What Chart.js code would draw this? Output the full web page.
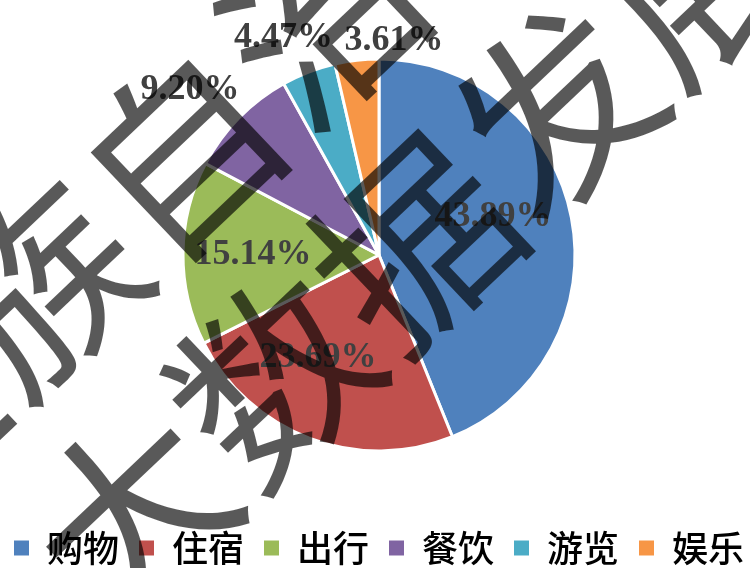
<!DOCTYPE html>
<html>
<head>
<meta charset="utf-8">
<script src="https://cdn.jsdelivr.net/npm/chart.js@4.4.1/dist/chart.umd.min.js"></script>
<style>
  html, body { margin: 0; padding: 0; background: #fff; }
  #wrap { width: 750px; height: 568px; }
</style>
</head>
<body>
<div id="wrap"><canvas id="pie"></canvas></div>
<script>
const categories = ['购物', '住宿', '出行', '餐饮', '游览', '娱乐'];
const shares = [43.89, 23.69, 15.14, 9.20, 4.47, 3.61];
const percentLabels = ['43.89%', '23.69%', '15.14%', '9.20%', '4.47%', '3.61%'];

const sliceColors = ['#4F81BD', '#C0504D', '#9BBB59', '#8064A2', '#4BACC6', '#F79646'];
// where each percent label sits: fraction of radius, angle nudge in degrees
const labelPlace = [
  { f: 0.613, da: -7.4 },
  { f: 0.61, da: 10 },
  { f: 0.643, da: -0.5 },
  { f: 1.28, da: -3.2 },
  { f: 1.21, da: -2.7 },
  { f: 1.094, da: 10.5 }
];
const watermarkLines = ['广西壮族自治区', '大数据发展局'];

// nudge the pie a few px right, the legend keeps its own box
const shiftPlugin = {
  id: 'shiftArea',
  afterLayout(chart) {
    chart.chartArea.left += 4;
    chart.chartArea.right += 4;
  }
};

// percent labels on / around the slices
const percentPlugin = {
  id: 'percentLabels',
  afterDatasetsDraw(chart) {
    const ctx = chart.ctx;
    const arcs = chart.getDatasetMeta(0).data;
    ctx.save();
    ctx.font = 'bold 36px "Liberation Serif", "Times New Roman", serif';
    ctx.fillStyle = '#404040';
    ctx.textAlign = 'center';
    ctx.textBaseline = 'middle';
    arcs.forEach((arc, i) => {
      const p = arc.getProps(['x', 'y', 'startAngle', 'endAngle', 'outerRadius'], true);
      const mid = (p.startAngle + p.endAngle) / 2 + labelPlace[i].da * Math.PI / 180;
      const r = p.outerRadius * labelPlace[i].f;
      ctx.fillText(percentLabels[i], p.x + Math.cos(mid) * r, p.y + Math.sin(mid) * r);
    });
    ctx.restore();
  }
};

// big diagonal watermark laid over the whole picture
const watermarkPlugin = {
  id: 'watermark',
  afterDraw(chart) {
    const ctx = chart.ctx;
    ctx.save();
    ctx.rotate(-43.5 * Math.PI / 180);
    ctx.font = '195px "Noto Sans CJK SC", sans-serif';
    ctx.fillStyle = 'rgba(0,0,0,0.65)';
    ctx.textAlign = 'left';
    ctx.textBaseline = 'middle';
    ctx.fillText(watermarkLines[0], -851, 236);
    ctx.fillText(watermarkLines[1], -355, 462);
    ctx.restore();
  }
};

new Chart(document.getElementById('pie'), {
  type: 'pie',
  data: {
    labels: categories,
    datasets: [{
      data: shares,
      backgroundColor: sliceColors,
      borderColor: '#ffffff',
      borderWidth: 3,
      radius: 196
    }]
  },
  options: {
    responsive: true,
    maintainAspectRatio: false,
    animation: false,
    layout: { padding: { top: -2, bottom: -8, left: -8, right: -16 } },
    plugins: {
      tooltip: { enabled: false },
      legend: {
        position: 'bottom',
        labels: {
          boxWidth: 15,
          boxHeight: 15,
          padding: 20,
          color: '#404040',
          font: { family: '"Noto Sans CJK SC", sans-serif', size: 36, weight: '500' },
          generateLabels: (chart) => categories.map((c, i) => ({
            text: c,
            fillStyle: sliceColors[i],
            strokeStyle: sliceColors[i],
            lineWidth: 0,
            hidden: false,
            index: i
          }))
        }
      }
    }
  },
  plugins: [shiftPlugin, percentPlugin, watermarkPlugin]
});
</script>
</body>
</html>
